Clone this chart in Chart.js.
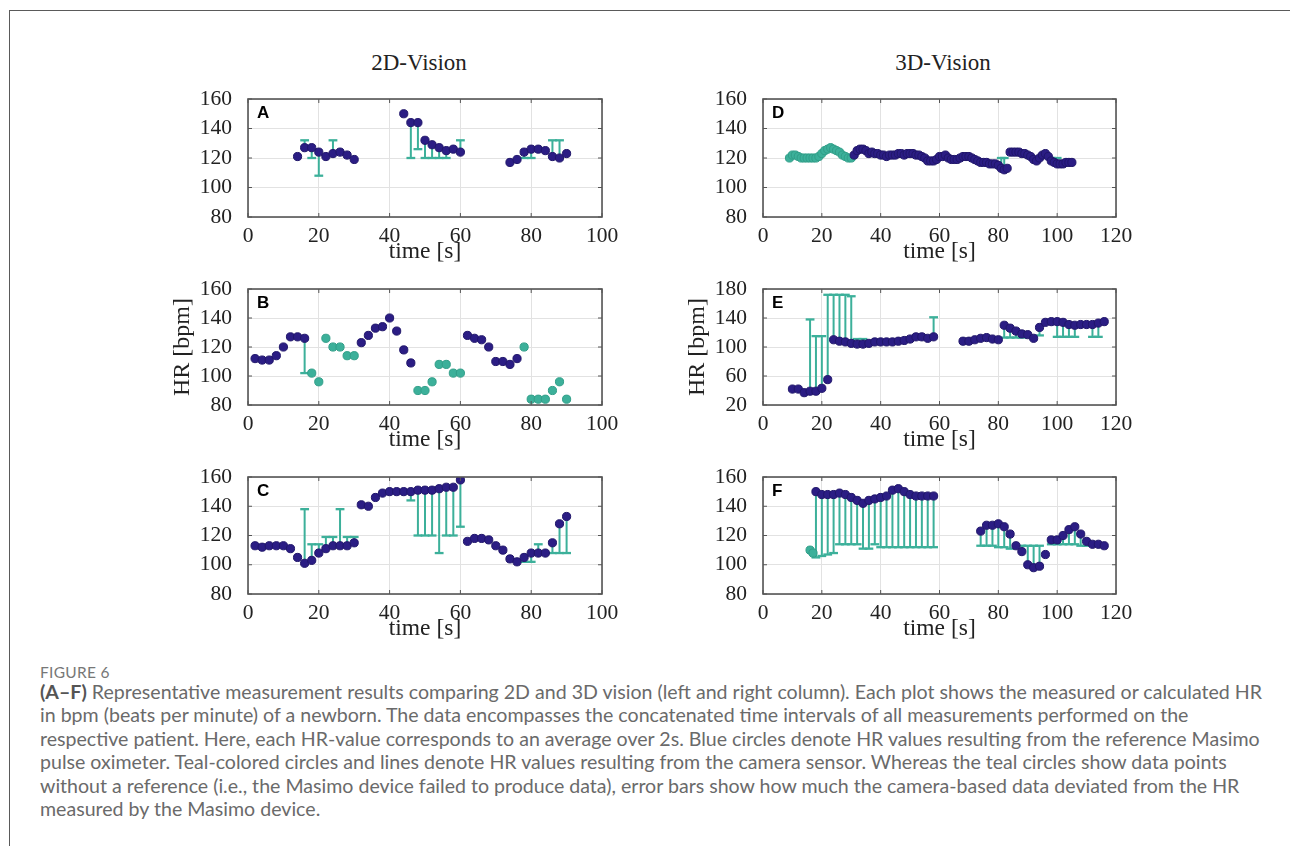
<!DOCTYPE html>
<html><head><meta charset="utf-8">
<script src="https://cdn.jsdelivr.net/npm/chart.js@4.4.1/dist/chart.umd.min.js"></script>
<style>
html,body{margin:0;padding:0;background:#fff;}
body{width:1290px;height:846px;overflow:hidden;position:relative;}
#frame{position:absolute;left:9px;top:10px;width:1300px;height:850px;border-top:1.5px solid #5a5a5a;border-left:1.5px solid #5a5a5a;}
.hdr{position:absolute;top:51px;font-family:'Liberation Serif','Times New Roman',serif;font-size:23px;line-height:23px;color:#222;white-space:nowrap;transform:translateX(-50%);}
.cw{position:absolute;}
.cw canvas{display:block;}
#fig{position:absolute;left:40px;top:660px;font-family:Lato,'Open Sans',sans-serif;font-size:15.5px;line-height:24px;color:#777;letter-spacing:0.3px;}
#cap{position:absolute;left:40px;top:680px;font-family:Lato,'Open Sans',sans-serif;color:#6a6a6a;}
#cap div{white-space:nowrap;height:23.4px;line-height:23.4px;}
#cap b{font-weight:700;color:#555;}
</style>
</head><body>
<div id="frame"></div>
<div class="hdr" style="left:419px">2D-Vision</div>
<div class="hdr" style="left:943px">3D-Vision</div>
<div id="fig">FIGURE 6</div>
<div id="cap">
<div id="ln1"><b>(A–F)</b> Representative measurement results comparing 2D and 3D vision (left and right column). Each plot shows the measured or calculated HR</div>
<div>in bpm (beats per minute) of a newborn. The data encompasses the concatenated time intervals of all measurements performed on the</div>
<div>respective patient. Here, each HR-value corresponds to an average over 2s. Blue circles denote HR values resulting from the reference Masimo</div>
<div>pulse oximeter. Teal-colored circles and lines denote HR values resulting from the camera sensor. Whereas the teal circles show data points</div>
<div>without a reference (i.e., the Masimo device failed to produce data), error bars show how much the camera-based data deviated from the HR</div>
<div>measured by the Masimo device.</div>
</div>
<script>
// ---------------- DATA ----------------
const xTicks2D = [0, 20, 40, 60, 80, 100];
const xTicks3D = [0, 20, 40, 60, 80, 100, 120];

// Panel A (2D)
const A_t   = [14,16,18,20,22,24,26,28,30, 44,46,48,50,52,54,56,58,60, 74,76,78,80,82,84,86,88,90];
const A_hr  = [121,127,127,124,121,123,124,122,119, 150,144,144,132,129,127,125,126,124, 117,119,124,126,126,125,121,120,123];
const A_tealT = [];
const A_tealHR = [];
const A_errT   = [16,18,20,24, 46,48,50,52,54,56,60, 78,80,86,88];
const A_errCam = [132,120,108,132, 120,126,120,120,120,120,132, 120,120,132,132];

// Panel B (2D)
const B_t   = [2,4,6,8,10,12,14,16, 32,34,36,38,40,42,44,46, 62,64,66,68,70,72,74,76];
const B_hr  = [112,111,111,114,120,127,127,126, 123,128,133,134,140,131,118,109, 128,126,125,120,110,110,108,112];
const B_tealT  = [18,20,22,24,26,28,30, 48,50,52,54,56,58,60, 78, 80,82,84,86,88,90];
const B_tealHR = [102,96,126,120,120,114,114, 90,90,96,108,108,102,102, 120, 84,84,84,90,96,84];
const B_errT   = [16];
const B_errCam = [102];

// Panel C (2D)
const C_t   = [2,4,6,8,10,12,14,16,18,20,22,24,26,28,30, 32,34,36,38,40,42,44,46,48,50,52,54,56,58,60, 62,64,66,68,70,72,74,76,78,80,82,84,86,88,90];
const C_hr  = [113,112,113,113,113,111,105,101,103,108,111,113,113,113,115, 141,140,146,149,150,150,150,150,151,151,151,152,153,153,158, 116,118,118,117,113,110,104,102,105,108,108,108,115,128,133];
const C_tealT = [];
const C_tealHR = [];
const C_errT   = [16,18,20,22,24,26,28,30, 46,48,50,52,54,56,58,60, 78,80,82,86,88,90];
const C_errCam = [138,114,114,119,119,138,119,119, 144,120,120,120,108,120,120,126, 102,102,114,108,108,108];

// Panel D (3D)
const D_t   = [31,32,33,34,35,36,37,38,39,40,41,42,43,44,45,46,47,48,49,50,51,52,53,54,55,56,57,58,59,60,61,62,63,64,65,66,67,68,69,70,71,72,73,74,75,76,77,78,79,80,81,82,83,84,85,86,87,88,89,90,91,92,93,94,95,96,97,98,99,100,101,102,103,104,105];
const D_hr  = [122,125,126,126,125,123,124,123,123,122, 122,121,122,122,122,123,123,122,123,123, 123,122,122,121,120,118,118,118,119,121, 121,122,120,119,119,119,120,121,121,121, 120,119,118,117,117,117,116,116,116,115, 113,112,113,124,124,124,124,123,123,122, 121,119,118,120,122,123,121,118,117,116, 116,116,117,117,117];
const D_tealT  = [9,10,11,12,13,14,15,16,17,18,19,20,21,22,23,24,25,26,27,28,29,30];
const D_tealHR = [120,122,122,121,120,120,120,120,120,120,121,123,125,126,127,126,125,124,122,121,120,120];
const D_errT   = [81,82,98,100];
const D_errCam = [120,120,120,120];

// Panel E (3D)
const E_t   = [10,12,14,16,18,20,22, 24,26,28,30,32,34,36,38,40,42,44,46,48,50,52,54,56,58, 68,70,72,74,76,78,80, 82,84,86,88,90,92, 94,96,98,100,102,104,106,108,110,112,114,116];
const E_hr  = [42,42,37,39,39,43,55, 110,108,107,105,104,104,105,107,107,107,107,108,109,111,114,114,112,114, 108,108,110,112,113,111,110, 130,126,122,118,117,112, 127,134,135,135,134,131,130,131,131,131,133,135];
const E_tealT = [];
const E_tealHR = [];
const E_errT   = [16,18,20,22,24,26,28,30,32,34, 58, 82,84,86,88, 94, 100,102,104,106,112,114];
const E_errCam = [138,115,115,172,172,172,172,170,111,111, 141, 113,113,113,113, 116, 114,114,114,114,114,114];

// Panel F (3D)
const F_t   = [18,20,22,24,26,28,30,32,34,36,38,40,42,44,46,48,50,52,54,56,58, 74,76,78,80,82,84,86,88,90,92,94,96,98,100,102,104,106,108,110,112,114,116];
const F_hr  = [150,148,148,148,149,148,146,144,142,144,145,146,147,151,152,150,148,147,147,147,147, 123,127,127,128,126,121,113,109,100,98,99,107,117,117,120,124,126,121,116,114,114,113];
const F_tealT  = [16,17];
const F_tealHR = [110,108];
const F_errT   = [18,20,22,24,26,28,30,32,34,36,38,40,42,44,46,48,50,52,54,56,58, 74,76,78,80,82,84,88,90,92,94,98,100,102,104,106,108,110,112,114];
const F_errCam = [105,106,107,108,114,114,114,114,111,111,114,112,112,112,112,112,112,112,112,112,112, 113,113,113,112,112,111,113,113,113,113,114,114,114,114,114,113,113,113,113];

// ---------------- STYLE / LAYOUT ----------------
const BLUE = '#2b1d84', BLUE_EDGE = '#20166a', TEAL = '#3cb09a', TEAL_EDGE = '#319e88';
const SERIF = "'Liberation Serif','Times New Roman',serif";
const LPAD = 80, RPAD = 30, TPAD = 15, XH = 49;
const MR = 4.1;

function pts(ts, vs){ return ts.map((t,i)=>({x:t, y:vs[i]})); }
function errSegs(ts, vs, et, ec){
  const out = [];
  et.forEach((t,i)=>{ const r = vs[ts.indexOf(t)]; out.push({x:t,y:r},{x:t,y:ec[i]},{x:t,y:null}); });
  return out;
}

const boxPlugin = {
  id: 'box',
  afterDraw(chart, args, opts){
    const {ctx, chartArea:a, scales:{x, y}} = chart;
    ctx.save();
    ctx.strokeStyle = '#555'; ctx.lineWidth = 1;
    ctx.beginPath();
    x.ticks.forEach(t=>{ const p = x.getPixelForValue(t.value);
      ctx.moveTo(p, a.top); ctx.lineTo(p, a.top+4); ctx.moveTo(p, a.bottom); ctx.lineTo(p, a.bottom-4); });
    y.ticks.forEach(t=>{ const p = y.getPixelForValue(t.value);
      ctx.moveTo(a.left, p); ctx.lineTo(a.left+4, p); ctx.moveTo(a.right, p); ctx.lineTo(a.right-4, p); });
    ctx.stroke();
    ctx.lineWidth = 1.6; ctx.strokeStyle = '#555';
    ctx.strokeRect(a.left, a.top, a.right-a.left, a.bottom-a.top);
    ctx.fillStyle = '#000';
    ctx.font = "bold 17px 'Liberation Sans',Arial,sans-serif";
    ctx.textBaseline = 'alphabetic'; ctx.textAlign = 'left';
    ctx.fillText(opts.letter, a.left+9, a.top+19);
    ctx.restore();
  }
};

function panel(P, D){
  const W = P.w + LPAD + RPAD, H = P.h + TPAD + XH;
  const wrap = document.createElement('div');
  wrap.className = 'cw';
  wrap.style.left = (P.left - LPAD) + 'px';
  wrap.style.top = (P.top - TPAD) + 'px';
  const cv = document.createElement('canvas');
  cv.width = W; cv.height = H; cv.style.width = W+'px'; cv.style.height = H+'px';
  wrap.appendChild(cv); document.body.appendChild(wrap);
  const tickFont = {family:SERIF, size:21.5};
  new Chart(cv, {
    type: 'scatter',
    data: { datasets: [
      {data: pts(D.t, D.hr), backgroundColor: BLUE, borderColor: BLUE_EDGE, borderWidth: 1, pointRadius: MR, order: 0},
      {data: pts(D.tealT, D.tealHR), backgroundColor: TEAL, borderColor: TEAL_EDGE, borderWidth: 1, pointRadius: MR, order: 1},
      {data: pts(D.errT, D.errCam), pointStyle: 'line', pointRadius: 4.4, borderColor: TEAL, backgroundColor: TEAL, borderWidth: 2.3, order: 2},
      {type: 'line', data: errSegs(D.t, D.hr, D.errT, D.errCam), borderColor: TEAL, borderWidth: 2, pointRadius: 0, spanGaps: false, fill: false, order: 3}
    ]},
    options: {
      responsive: false, animation: false, devicePixelRatio: 1, events: [],
      layout: {padding: {left: 0, right: RPAD, top: TPAD, bottom: 0}},
      plugins: {legend: {display: false}, tooltip: {enabled: false}, box: {letter: P.letter}},
      scales: {
        x: {type: 'linear', min: 0, max: P.xticks[P.xticks.length-1],
            afterBuildTicks(s){ s.ticks = P.xticks.map(v=>({value:v})); },
            ticks: {padding: 6, color: '#222', font: tickFont, maxRotation: 0, autoSkip: false},
            grid: {color: '#e2e2e2', drawTicks: false}, border: {display: false},
            title: {display: true, text: 'time [s]', color: '#222', font: {family: SERIF, size: 23.5}, padding: 0},
            afterFit(s){ s.height = XH; s.paddingLeft = 0; s.paddingRight = 0; }},
        y: {type: 'linear', min: P.ymin, max: P.ymax,
            ticks: {stepSize: P.ystep, padding: 16, color: '#222', font: tickFont},
            grid: {color: '#e2e2e2', drawTicks: false}, border: {display: false},
            title: {display: !!P.ytitle, text: 'HR [bpm]', color: '#222', font: {family: SERIF, size: 24}, padding: 0},
            afterFit(s){ s.width = LPAD; s.paddingTop = 0; s.paddingBottom = 0; }}
      }
    },
    plugins: [boxPlugin]
  });
}

panel({letter:'A', left:248, top:99,  w:354, h:118, xticks:xTicks2D, ymin:80, ymax:160, ystep:20},
      {t:A_t, hr:A_hr, tealT:A_tealT, tealHR:A_tealHR, errT:A_errT, errCam:A_errCam});
panel({letter:'B', left:248, top:289, w:354, h:116, xticks:xTicks2D, ymin:80, ymax:160, ystep:20, ytitle:true},
      {t:B_t, hr:B_hr, tealT:B_tealT, tealHR:B_tealHR, errT:B_errT, errCam:B_errCam});
panel({letter:'C', left:248, top:477, w:354, h:117, xticks:xTicks2D, ymin:80, ymax:160, ystep:20},
      {t:C_t, hr:C_hr, tealT:C_tealT, tealHR:C_tealHR, errT:C_errT, errCam:C_errCam});
panel({letter:'D', left:763, top:99,  w:353, h:118, xticks:xTicks3D, ymin:80, ymax:160, ystep:20},
      {t:D_t, hr:D_hr, tealT:D_tealT, tealHR:D_tealHR, errT:D_errT, errCam:D_errCam});
panel({letter:'E', left:763, top:289, w:353, h:116, xticks:xTicks3D, ymin:20, ymax:180, ystep:40, ytitle:true},
      {t:E_t, hr:E_hr, tealT:E_tealT, tealHR:E_tealHR, errT:E_errT, errCam:E_errCam});
panel({letter:'F', left:763, top:477, w:353, h:117, xticks:xTicks3D, ymin:80, ymax:160, ystep:20},
      {t:F_t, hr:F_hr, tealT:F_tealT, tealHR:F_tealHR, errT:F_errT, errCam:F_errCam});

// fit caption font so that the first line spans the same width as in the figure
(function(){
  const cap = document.getElementById('cap');
  const l1 = document.getElementById('ln1');
  cap.style.fontSize = '17px';
  l1.style.display = 'inline-block';
  const w = l1.getBoundingClientRect().width;
  cap.style.fontSize = (17 * 1222 / w).toFixed(2) + 'px';
  l1.style.display = 'block';
})();
</script>
</body></html>
